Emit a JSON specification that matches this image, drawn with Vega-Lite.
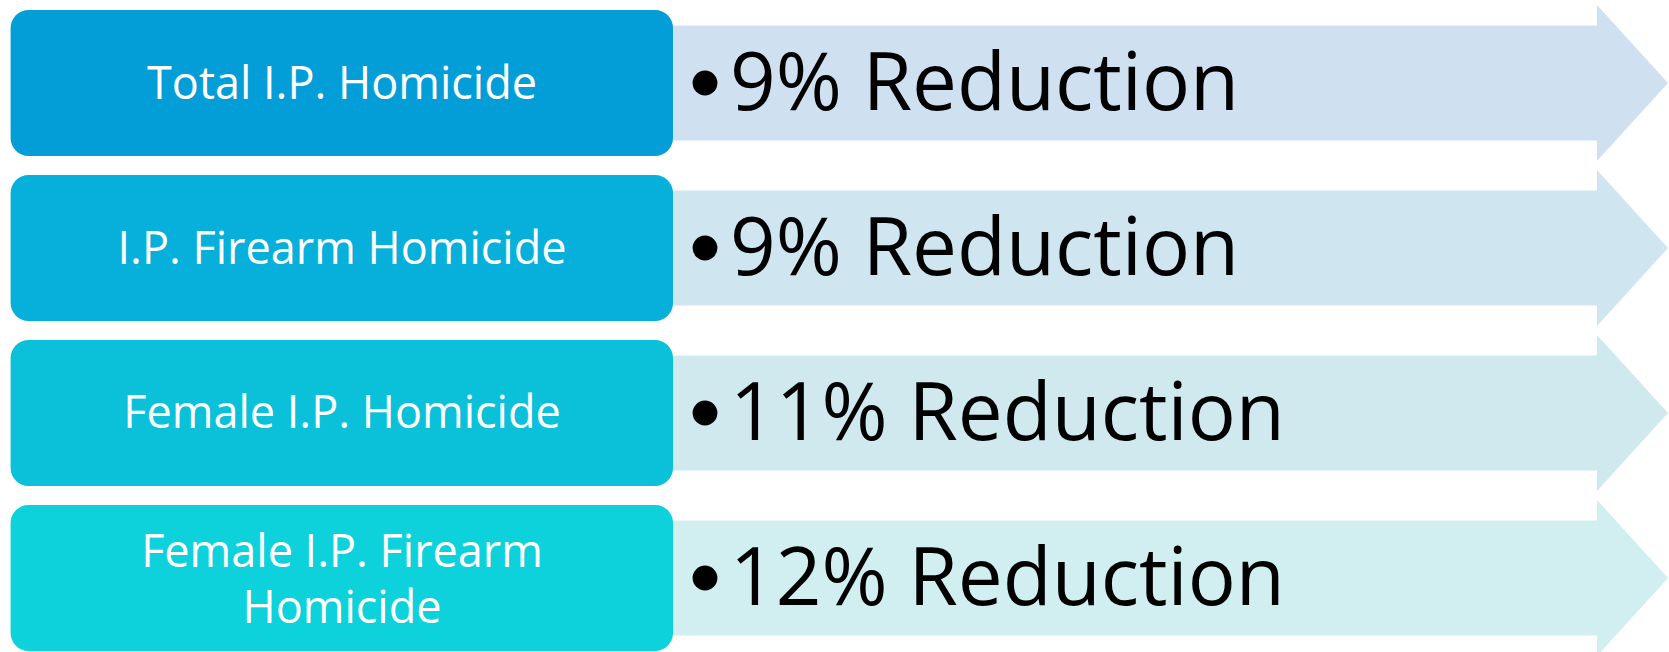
{
  "$schema": "https://vega.github.io/schema/vega-lite/v6.json",
  "width": 1669,
  "height": 652,
  "autosize": {"type": "fit", "contains": "padding"},
  "padding": 0,
  "background": "white",
  "config": {"view": {"stroke": null}},
  "data": {"values": [
    {"item": "Total I.P. Homicide", "reduction": "9% Reduction"},
    {"item": "I.P.  Firearm Homicide", "reduction": "9% Reduction"},
    {"item": "Female I.P. Homicide", "reduction": "11% Reduction"},
    {"item": "Female I.P. Firearm\nHomicide", "reduction": "12% Reduction"}
  ]},
  "encoding": {
    "y": {"field": "item", "type": "nominal", "sort": null, "axis": null,
          "scale": {"type": "band", "range": [10, 651], "paddingInner": 0.115, "paddingOuter": 0}}
  },
  "layer": [
    {
      "mark": {"type": "point", "shape": "M-5.34,-0.575L4.63,-0.575L4.63,-0.78L5.34,0L4.63,0.78L4.63,0.575L-5.34,0.575Z",
               "size": 40000, "filled": true, "opacity": 1, "strokeWidth": 0},
      "encoding": {
        "x": {"datum": 1134, "type": "quantitative", "axis": null,
              "scale": {"domain": [0, 1669], "nice": false, "zero": false}},
        "fill": {"field": "item", "type": "nominal", "sort": null, "legend": null,
                 "scale": {"range": ["#CFE0F0", "#CFE5EF", "#D0E9EF", "#D1EEF1"]}}
      }
    },
    {
      "mark": {"type": "rect", "cornerRadius": 18},
      "encoding": {
        "x": {"datum": 10.6, "type": "quantitative"},
        "x2": {"datum": 673},
        "color": {"field": "item", "type": "nominal", "sort": null, "legend": null,
                  "scale": {"range": ["#039ED7", "#06B0DA", "#0AC1D9", "#0DD1DB"]}}
      }
    },
    {
      "transform": [{"filter": "indexof(datum.item, '\\n') < 0"}],
      "mark": {"type": "text", "align": "center", "baseline": "middle", "font": "Open Sans", "fontSize": 45,
               "color": "white", "dy": 1.5},
      "encoding": {
        "x": {"datum": 342, "type": "quantitative"},
        "text": {"field": "item"}
      }
    },
    {
      "transform": [{"filter": "indexof(datum.item, '\\n') >= 0"}],
      "mark": {"type": "text", "align": "center", "baseline": "middle", "font": "Open Sans", "fontSize": 45,
               "color": "white", "lineBreak": "\n", "lineHeight": 56, "dy": -24.5},
      "encoding": {
        "x": {"datum": 342, "type": "quantitative"},
        "text": {"field": "item"}
      }
    },
    {
      "mark": {"type": "point", "shape": "circle", "size": 616, "filled": true, "color": "black", "opacity": 1},
      "encoding": {
        "x": {"datum": 705, "type": "quantitative"}
      }
    },
    {
      "mark": {"type": "text", "align": "left", "baseline": "middle", "font": "Open Sans", "fontSize": 80, "color": "black", "dy": 3},
      "encoding": {
        "x": {"datum": 730, "type": "quantitative"},
        "text": {"field": "reduction"}
      }
    }
  ]
}
